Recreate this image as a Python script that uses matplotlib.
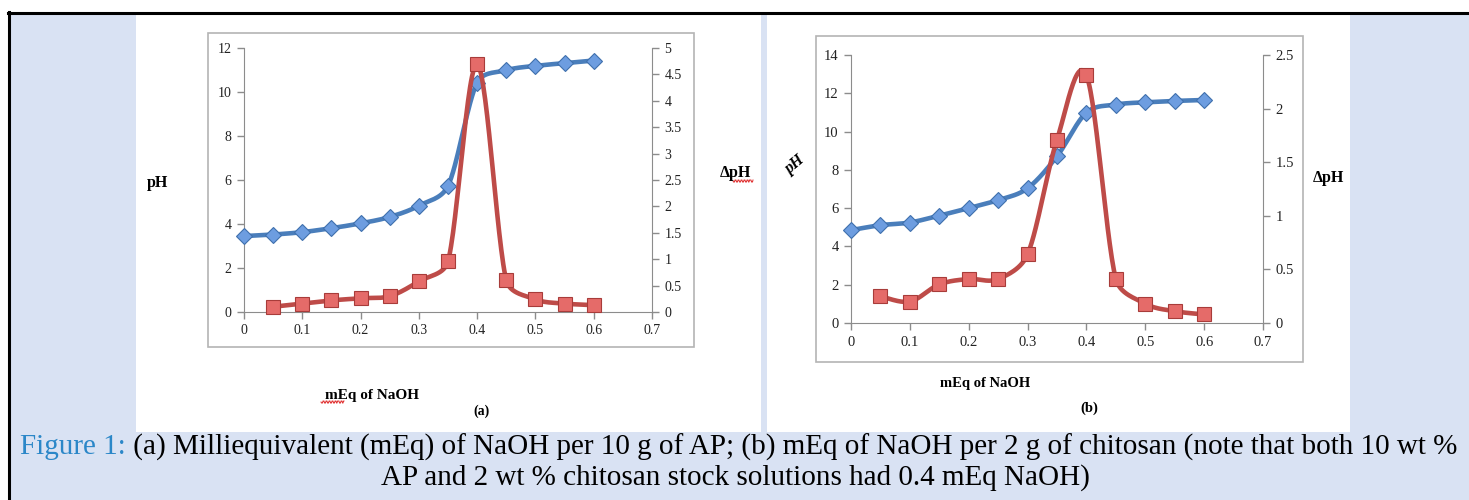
import numpy as np
import matplotlib
matplotlib.use("Agg")
import matplotlib.pyplot as plt
from matplotlib.patches import Rectangle
from matplotlib.lines import Line2D
from matplotlib.ticker import FuncFormatter, MultipleLocator

# ---------------- data ----------------
meq = [0, 0.05, 0.1, 0.15, 0.2, 0.25, 0.3, 0.35, 0.4, 0.45, 0.5, 0.55, 0.6]
meq_d = [0.05, 0.1, 0.15, 0.2, 0.25, 0.3, 0.35, 0.4, 0.45, 0.5, 0.55, 0.6]

ph_a = [3.45, 3.52, 3.63, 3.81, 4.03, 4.32, 4.83, 5.73, 10.43, 10.99, 11.19, 11.31, 11.43]
dph_a = [0.10, 0.16, 0.22, 0.26, 0.30, 0.58, 0.96, 4.69, 0.60, 0.24, 0.16, 0.13]

ph_b = [4.85, 5.11, 5.25, 5.61, 6.00, 6.42, 7.04, 8.71, 10.99, 11.41, 11.53, 11.60, 11.65]
dph_b = [0.25, 0.20, 0.36, 0.41, 0.41, 0.64, 1.71, 2.31, 0.41, 0.18, 0.11, 0.08]

x_ticks = [0, 0.1, 0.2, 0.3, 0.4, 0.5, 0.6, 0.7]
caption_head = "Figure 1:"
caption_l1 = " (a) Milliequivalent (mEq) of NaOH per 10 g of AP; (b) mEq of NaOH per 2 g of chitosan (note that both 10 wt %"
caption_l2 = "AP and 2 wt % chitosan stock solutions had 0.4 mEq NaOH)"

# ---------------- style ----------------
W, H = 1469, 500
BG = "#d9e2f3"
BLUE_L = "#4a7ebb"
BLUE_F = "#6d9de0"
BLUE_E = "#3f70ad"
RED_L = "#be4b48"
RED_F = "#e56b69"
RED_E = "#a83c3a"
SPINE = "#8c8c8c"
SERIF = ["Liberation Serif", "DejaVu Serif"]

fig = plt.figure(figsize=(W / 100, H / 100), dpi=100)
fig.patch.set_facecolor("white")


def rect_px(x0, y0, x1, y1, **kw):
    r = Rectangle((x0 / W, 1 - y1 / H), (x1 - x0) / W, (y1 - y0) / H,
                  transform=fig.transFigure, **kw)
    fig.add_artist(r)
    return r


def fx(x):
    return np.asarray(x) / W


def fy(y):
    return 1 - np.asarray(y) / H


# background, frame and white panels
rect_px(9, 13, W + 2, H + 2, facecolor=BG, edgecolor="none", zorder=-10)
fig.add_artist(Line2D([fx(8), fx(W)], [fy(12.5), fy(12.5)], color="black", lw=2.2,
                      transform=fig.transFigure, zorder=-5))
fig.add_artist(Line2D([fx(9), fx(9)], [fy(12), fy(H)], color="black", lw=2.2,
                      transform=fig.transFigure, zorder=-5))
rect_px(136, 15, 761, 432, facecolor="white", edgecolor="none", zorder=-9)
rect_px(767, 14, 1350, 432, facecolor="white", edgecolor="none", zorder=-9)
# chart borders
rect_px(207.5, 33, 694, 347, facecolor="none", edgecolor="#b4b4b4", lw=1.2, zorder=-8)
rect_px(816, 36, 1303, 362, facecolor="none", edgecolor="#b4b4b4", lw=1.2, zorder=-8)


def smooth(xs, ys, sx, sy, k=0.4, n=30):
    """Excel-like smoothed line: Catmull-Rom Bezier segments computed in pixel
    space (sx, sy = pixels per data unit), control arms clamped to k*segment."""
    pts = np.column_stack([np.asarray(xs) * sx, np.asarray(ys) * sy]).astype(float)
    m = len(pts)
    tang = []
    for i in range(m):
        a = pts[i - 1] if i > 0 else pts[i]
        b = pts[i + 1] if i + 1 < m else pts[i]
        tang.append((b - a) / 6.0)
    out = [pts[0]]
    for i in range(m - 1):
        p1, p2 = pts[i], pts[i + 1]
        L = np.hypot(*(p2 - p1))
        t1 = tang[i]
        t2 = tang[i + 1]
        n1 = np.hypot(*t1)
        n2 = np.hypot(*t2)
        if n1 > k * L:
            t1 = t1 * (k * L / n1)
        if n2 > k * L:
            t2 = t2 * (k * L / n2)
        c1 = p1 + t1
        c2 = p2 - t2
        t = np.linspace(0, 1, n)[1:, None]
        seg = ((1 - t) ** 3) * p1 + 3 * ((1 - t) ** 2) * t * c1 + 3 * (1 - t) * t ** 2 * c2 + t ** 3 * p2
        out.extend(seg)
    out = np.array(out)
    return out[:, 0] / sx, out[:, 1] / sy


fmt = FuncFormatter(lambda v, p: "%g" % round(v, 3))


def style_axis(ax):
    for s in ["top", "right", "left", "bottom"]:
        ax.spines[s].set_visible(False)
    ax.patch.set_alpha(0)
    ax.tick_params(colors=SPINE, labelcolor="#222222", length=5, width=1, pad=4)


def make_panel(rect, ph, dph, ylim, ystep, y2lim, tfs):
    ax = fig.add_axes(rect)
    ax2 = ax.twinx()
    ax.set_xlim(0, 0.7)
    ax.set_ylim(*ylim)
    ax2.set_ylim(*y2lim)
    ax.set_xticks(x_ticks)
    ax.yaxis.set_major_locator(MultipleLocator(ystep))
    ax2.yaxis.set_major_locator(MultipleLocator(0.5))
    ax.xaxis.set_major_formatter(fmt)
    ax.yaxis.set_major_formatter(fmt)
    ax2.yaxis.set_major_formatter(fmt)
    style_axis(ax)
    style_axis(ax2)
    ax.spines["left"].set_visible(True)
    ax.spines["bottom"].set_visible(True)
    ax.spines["left"].set_color(SPINE)
    ax.spines["bottom"].set_color(SPINE)
    ax2.spines["right"].set_visible(True)
    ax2.spines["right"].set_color(SPINE)
    ax2.tick_params(axis="x", which="both", bottom=False, labelbottom=False)
    for lab in ax.get_xticklabels() + ax.get_yticklabels() + ax2.get_yticklabels():
        lab.set_fontfamily(SERIF)
        lab.set_fontsize(tfs)

    wpx = rect[2] * W
    hpx = rect[3] * H
    sxp = wpx / 0.7
    sx, sy = smooth(meq, ph, sxp, hpx / (ylim[1] - ylim[0]))
    ax.plot(sx, sy, color=BLUE_L, lw=3.3, solid_capstyle="round", zorder=3)
    ax.plot(meq, ph, ls="none", marker="D", ms=8.5, mfc=BLUE_F, mec=BLUE_E, mew=0.8, zorder=4,
            clip_on=False)
    sx2, sy2 = smooth(meq_d, dph, sxp, hpx / (y2lim[1] - y2lim[0]))
    ax2.plot(sx2, sy2, color=RED_L, lw=3.3, solid_capstyle="round", zorder=3)
    ax2.plot(meq_d, dph, ls="none", marker="s", ms=9.5, mfc=RED_F, mec=RED_E, mew=0.8, zorder=4,
             clip_on=False)
    return ax, ax2


# panel (a)
make_panel([244 / W, 1 - 312 / H, 408 / W, 264 / H], ph_a, dph_a, (0, 12), 2, (0, 5), 10)
# panel (b)
make_panel([851 / W, 1 - 323 / H, 412 / W, 268 / H], ph_b, dph_b, (0, 14), 2, (0, 2.5), 10.5)

# labels panel (a)
fig.text(fx(157), fy(183), "pH", family=SERIF, weight="bold", fontsize=11.5, ha="center", va="center")
fig.text(fx(735), fy(173), "ΔpH", family=SERIF, weight="bold", fontsize=11.5, ha="center", va="center")
fig.text(fx(372), fy(395), "mEq of NaOH", family=SERIF, weight="bold", fontsize=11,
         ha="center", va="center")
fig.text(fx(482), fy(411), "(a)", family=SERIF, weight="bold", fontsize=10, ha="center", va="center")

# labels panel (b)
fig.text(fx(795), fy(165), "pH", family=SERIF, style="italic", weight="bold", fontsize=11.5,
         ha="center", va="center", rotation=40)
fig.text(fx(1328), fy(178), "ΔpH", family=SERIF, weight="bold", fontsize=11.5, ha="center", va="center")
fig.text(fx(985), fy(383), "mEq of NaOH", family=SERIF, weight="bold", fontsize=10.5,
         ha="center", va="center")
fig.text(fx(1089), fy(408), "(b)", family=SERIF, weight="bold", fontsize=10.5, ha="center", va="center")


# red spell-check squiggles
def squiggle(x0, x1, y):
    xs = np.linspace(x0, x1, int((x1 - x0) * 2) + 1)
    ys = y + 1.0 * np.sign(np.sin((xs - x0) * np.pi / 1.5))
    fig.add_artist(Line2D(fx(xs), fy(ys), color="#e03030", lw=0.7, transform=fig.transFigure))


squiggle(321, 344, 402)
squiggle(733, 753, 181)

# caption
renderer = fig.canvas.get_renderer()
CAP = ["Liberation Serif", "DejaVu Serif"]
cap_fs = 16.5
t1 = fig.text(0, 0, caption_head, family=CAP, fontsize=cap_fs, color="#2b87c8")
t2 = fig.text(0, 0, caption_l1, family=CAP, fontsize=cap_fs, color="black")
w1 = t1.get_window_extent(renderer).width
w2 = t2.get_window_extent(renderer).width
target = 1438.0
scale = target / (w1 + w2)
cap_fs = cap_fs * scale
t1.set_fontsize(cap_fs)
t2.set_fontsize(cap_fs)
w1 = t1.get_window_extent(renderer).width
w2 = t2.get_window_extent(renderer).width
x_start = (739 - (w1 + w2) / 2)
t1.set_position((fx(x_start), fy(447)))
t1.set_va("center")
t2.set_position((fx(x_start + w1), fy(447)))
t2.set_va("center")
fig.text(fx(735), fy(478), caption_l2, family=CAP, fontsize=cap_fs, color="black",
         ha="center", va="center")

fig.savefig("out.png", dpi=100, facecolor=fig.get_facecolor())
